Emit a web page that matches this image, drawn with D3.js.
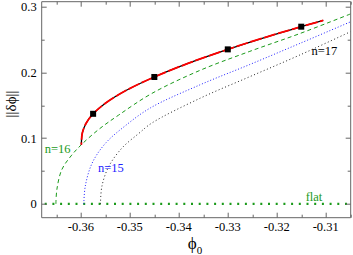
<!DOCTYPE html>
<html>
<head>
<meta charset="utf-8">
<script src="https://cdn.jsdelivr.net/npm/d3@7"></script>
<style>
	body { margin: 0; background: #fff; }
	svg { display: block; font-family: "Liberation Serif", "Times New Roman", serif; }
	.frame line { stroke: #666; stroke-width: 1; }
</style>
</head>
<body>
<div id="chart"></div>
<script>
/* eslint-disable no-magic-numbers */

// curve n=16 (green dashed)
var n16Phi = [-0.3651, -0.3649, -0.3639, -0.3620, -0.3599, -0.3564, -0.3523, -0.3455, -0.3357, -0.3255, -0.3153, -0.3049];
var n16Val = [0, 0.022, 0.052, 0.073, 0.090, 0.113, 0.135, 0.168, 0.203, 0.232, 0.259, 0.289];

// curve n=15 (blue dotted)
var n15Phi = [-0.3594, -0.3591, -0.3577, -0.3550, -0.3509, -0.3458, -0.3357, -0.3255, -0.3153, -0.3049];
var n15Val = [0, 0.027, 0.062, 0.092, 0.119, 0.146, 0.181, 0.212, 0.244, 0.277];

// curve n=17 (black dotted)
var n17Phi = [-0.3560, -0.3557, -0.3543, -0.3516, -0.3482, -0.3455, -0.3357, -0.3255, -0.3153, -0.3049];
var n17Val = [0, 0.027, 0.057, 0.085, 0.107, 0.123, 0.1605, 0.1935, 0.2264, 0.262];

// full solution (red / black solid)
var solPhi = [-0.3599, -0.3597, -0.3589, -0.3575, -0.3550, -0.3509, -0.3450, -0.3380, -0.3300, -0.3225, -0.3150, -0.3105];
var solVal = [0.090, 0.108, 0.123, 0.137, 0.153, 0.172, 0.193, 0.214, 0.235, 0.253, 0.2695, 0.279];

// squares on the solution
var markPhi = [-0.3575, -0.345, -0.33, -0.315];
var markVal = [0.137, 0.193, 0.235, 0.2695];

// flat branch
var flatPhi = [-0.368, -0.3049];
var flatVal = [0, 0];

var xTicks = [-0.36, -0.35, -0.34, -0.33, -0.32, -0.31];
var xMinor = [-0.365, -0.355, -0.345, -0.335, -0.325, -0.315, -0.305];
var yTicks = [0, 0.1, 0.2, 0.3];
var yMinor = [0.05, 0.15, 0.25];

(function() {
	var origWidth = 353,
		origHeight = 255,
		margin = { top: 1.7, right: 2.3, bottom: 37.3, left: 41.7 },
		width = origWidth - margin.left - margin.right,
		height = origHeight - margin.top - margin.bottom,
		major = 5,
		minor = 3,
		green = "#1a9a1a";

	var x = d3.scaleLinear().domain([-0.368, -0.3049]).range([0, width]),
		y = d3.scaleLinear().domain([-0.021, 0.3075]).range([height, 0]);

	function zipPts(a, b) {
		return a.map(function(d, i) { return [d, b[i]]; });
	}

	var line = d3.line()
		.x(function(d) { return x(d[0]); })
		.y(function(d) { return y(d[1]); })
		.curve(d3.curveCatmullRom.alpha(0.5));

	var svg = d3.select("#chart").append("svg")
		.attr("width", origWidth)
		.attr("height", origHeight)
		.append("g")
		.attr("transform", "translate(" + margin.left + "," + margin.top + ")");

	svg.append("clipPath").attr("id", "clip")
		.append("rect").attr("width", width).attr("height", height);

	var plot = svg.append("g").attr("clip-path", "url(#clip)");

	// flat
	plot.append("path")
		.datum(zipPts(flatPhi, flatVal))
		.attr("fill", "none")
		.attr("stroke", green)
		.attr("stroke-width", 2.2)
		.attr("stroke-dasharray", "2,5.7")
		.attr("stroke-dashoffset", -3)
		.attr("d", line);

	// n=17
	plot.append("path")
		.datum(zipPts(n17Phi, n17Val))
		.attr("fill", "none")
		.attr("stroke", "#222")
		.attr("stroke-width", 1)
		.attr("stroke-dasharray", "1,2.5")
		.attr("d", line);

	// n=15
	plot.append("path")
		.datum(zipPts(n15Phi, n15Val))
		.attr("fill", "none")
		.attr("stroke", "#2020ff")
		.attr("stroke-width", 1)
		.attr("stroke-dasharray", "1,2")
		.attr("d", line);

	// n=16
	plot.append("path")
		.datum(zipPts(n16Phi, n16Val))
		.attr("fill", "none")
		.attr("stroke", green)
		.attr("stroke-width", 1)
		.attr("stroke-dasharray", "4,3")
		.attr("d", line);

	// solution: black under red dashes
	plot.append("path")
		.datum(zipPts(solPhi, solVal))
		.attr("fill", "none")
		.attr("stroke", "#000")
		.attr("stroke-width", 1.3)
		.attr("d", line);

	plot.append("path")
		.datum(zipPts(solPhi, solVal))
		.attr("fill", "none")
		.attr("stroke", "#ff0000")
		.attr("stroke-width", 1.8)
		.attr("stroke-dasharray", "12,2.5")
		.attr("stroke-dashoffset", -5)
		.attr("d", line);

	plot.append("g")
		.selectAll("rect")
		.data(zipPts(markPhi, markVal))
		.join("rect")
		.attr("x", function(d) { return x(d[0]) - 3; })
		.attr("y", function(d) { return y(d[1]) - 3; })
		.attr("width", 6)
		.attr("height", 6)
		.attr("fill", "#000");

	// frame + ticks (xmgrace style, ticks inward on all four sides)
	var frame = svg.append("g").attr("class", "frame");
	frame.append("line").attr("x1", 0).attr("x2", width).attr("y1", 0).attr("y2", 0);
	frame.append("line").attr("x1", 0).attr("x2", width).attr("y1", height).attr("y2", height);
	frame.append("line").attr("x1", 0).attr("x2", 0).attr("y1", 0).attr("y2", height);
	frame.append("line").attr("x1", width).attr("x2", width).attr("y1", 0).attr("y2", height);

	function xTickMarks(vals, len) {
		frame.selectAll(null).data(vals).join("line")
			.attr("x1", function(d) { return Math.round(x(d)) + 0.5; })
			.attr("x2", function(d) { return Math.round(x(d)) + 0.5; })
			.attr("y1", height).attr("y2", height - len);
		frame.selectAll(null).data(vals).join("line")
			.attr("x1", function(d) { return Math.round(x(d)) + 0.5; })
			.attr("x2", function(d) { return Math.round(x(d)) + 0.5; })
			.attr("y1", 0).attr("y2", len);
	}
	function yTickMarks(vals, len) {
		frame.selectAll(null).data(vals).join("line")
			.attr("y1", function(d) { return Math.round(y(d)) + 0.5; })
			.attr("y2", function(d) { return Math.round(y(d)) + 0.5; })
			.attr("x1", 0).attr("x2", len);
		frame.selectAll(null).data(vals).join("line")
			.attr("y1", function(d) { return Math.round(y(d)) + 0.5; })
			.attr("y2", function(d) { return Math.round(y(d)) + 0.5; })
			.attr("x1", width).attr("x2", width - len);
	}
	xTickMarks(xTicks, major);
	xTickMarks(xMinor, minor);
	yTickMarks(yTicks, major);
	yTickMarks(yMinor, minor);

	// tick labels
	svg.append("g").selectAll("text").data(xTicks).join("text")
		.attr("x", function(d) { return x(d); })
		.attr("y", height + 13)
		.attr("text-anchor", "middle")
		.attr("font-size", 12.5)
		.text(function(d) { return d3.format(".2f")(d).replace("−", "-"); });

	svg.append("g").selectAll("text").data(yTicks).join("text")
		.attr("x", -5)
		.attr("y", function(d) { return y(d); })
		.attr("dy", "0.35em")
		.attr("text-anchor", "end")
		.attr("font-size", 12.5)
		.text(function(d) { return d === 0 ? "0" : d3.format(".1f")(d); });

	// axis titles
	svg.append("text")
		.attr("transform", "translate(" + (-30.5) + "," + y(0.152) + ") rotate(-90)")
		.attr("text-anchor", "middle")
		.attr("dy", "0.35em")
		.attr("font-size", 15)
		.text("||δϕ||");

	var xl = svg.append("text")
		.attr("x", x(-0.3367))
		.attr("y", height + 31)
		.attr("text-anchor", "middle")
		.attr("font-size", 17);
	xl.append("tspan").text("ϕ");
	xl.append("tspan").attr("font-size", 11).attr("dy", 5).text("0");

	// curve labels
	function label(txt, px, py, col) {
		svg.append("text")
			.attr("x", x(px))
			.attr("y", y(py))
			.attr("font-size", 12.5)
			.attr("fill", col)
			.text(txt);
	}
	label("n=16", -0.3674, 0.078, green);
	label("n=15", -0.3565, 0.049, "#2020ff");
	label("n=17", -0.3129, 0.226, "#000");
	label("flat", -0.3141, 0.005, green);
})();
</script>
</body>
</html>
